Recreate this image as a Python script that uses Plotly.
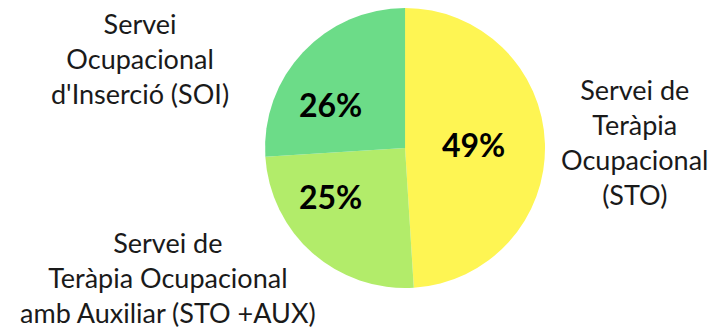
import plotly.graph_objects as go

# dades del gràfic
serveis = [
    "Servei de<br>Teràpia<br>Ocupacional<br>(STO)",
    "Servei de<br>Teràpia Ocupacional<br>amb Auxiliar (STO +AUX)",
    "Servei<br>Ocupacional<br>d'Inserció (SOI)",
]
percentatges = [49, 25, 26]
colors = ["#FEF553", "#B2EC6A", "#6CDC88"]

fig = go.Figure()
fig.add_trace(go.Pie(
    labels=serveis,
    values=percentatges,
    sort=False,
    direction="clockwise",
    rotation=0,
    marker=dict(colors=colors, line=dict(width=0)),
    textinfo="none",
    domain=dict(x=[0.3561, 0.7483], y=[0.1438, 1.0]),
    showlegend=False,
    hoverinfo="label+percent",
))

W, H = 719, 327

# etiquetes de percentatge dins de cada sector
pct_pos = [(465, 136), (322, 188), (322, 96)]
for v, (px_, py_) in zip(percentatges, pct_pos):
    fig.add_annotation(
        x=px_ / W, y=1 - py_ / H, xref="paper", yref="paper",
        text=f"{v}%", showarrow=False,
        xanchor="center", yanchor="middle",
        font=dict(family="Lato", size=32, color="black", weight="bold"),
    )

# etiquetes exteriors
label_pos = [(626, 134), (160, 269), (132, 50)]
for text, (px_, py_) in zip(serveis, label_pos):
    fig.add_annotation(
        x=px_ / W, y=1 - py_ / H, xref="paper", yref="paper",
        text=text, showarrow=False, align="center",
        xanchor="center", yanchor="middle",
        font=dict(family="Lato", size=27, color="#1a1a1a"),
    )

fig.update_layout(
    width=W, height=H,
    margin=dict(l=0, r=0, t=0, b=0),
    paper_bgcolor="white",
    plot_bgcolor="white",
)

fig.write_html("out.html")
